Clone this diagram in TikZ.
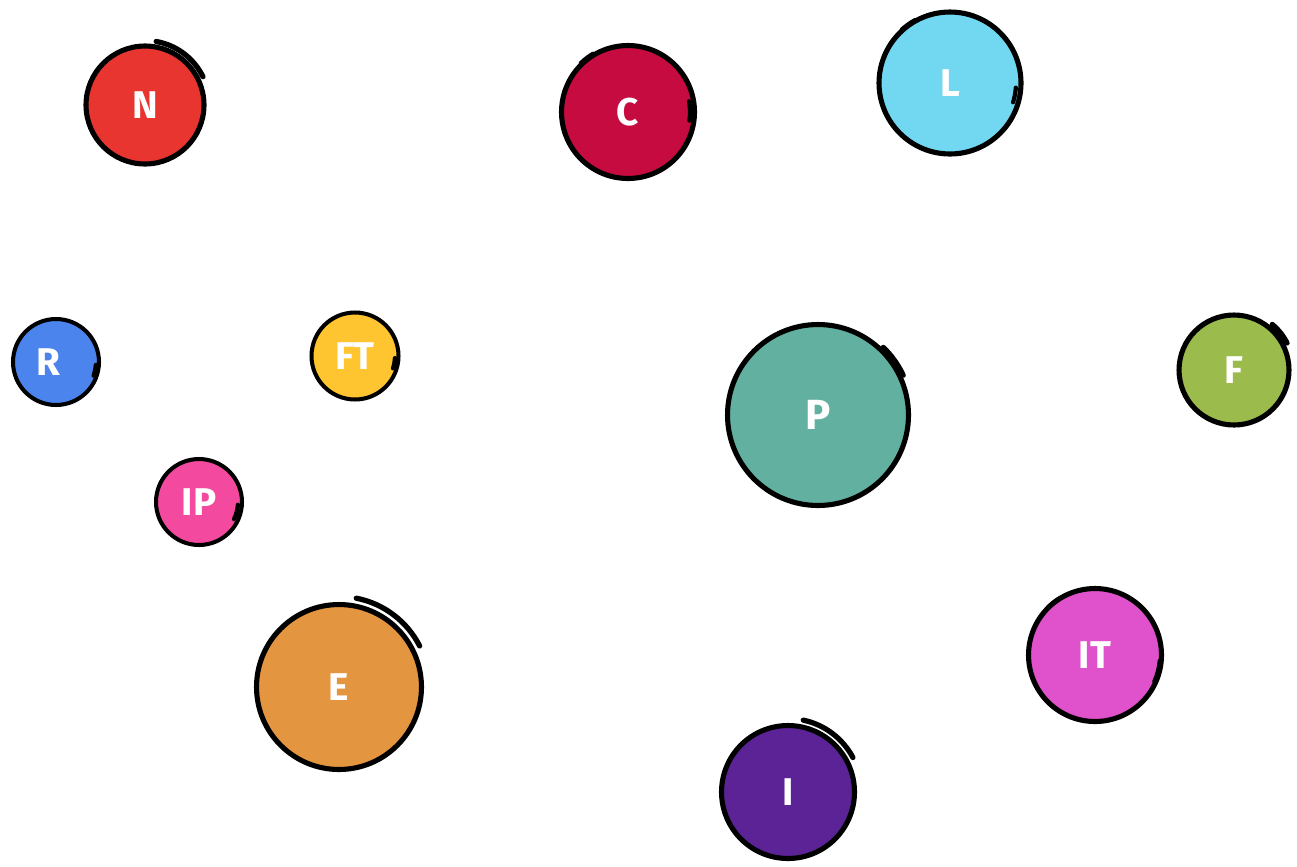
\documentclass[tikz,border=0pt]{standalone}
\usepackage{fontspec}
\setmainfont{Fira Sans}
\usetikzlibrary{calc}
\definecolor{cN}{HTML}{E8352F}
\definecolor{cC}{HTML}{C50B40}
\definecolor{cL}{HTML}{72D7F1}
\definecolor{cR}{HTML}{4A84EC}
\definecolor{cFT}{HTML}{FFC530}
\definecolor{cP}{HTML}{62B0A0}
\definecolor{cF}{HTML}{9BBB4D}
\definecolor{cIP}{HTML}{F34AA0}
\definecolor{cE}{HTML}{E49540}
\definecolor{cIT}{HTML}{E052CC}
\definecolor{cI}{HTML}{5B2396}
\tikzset{
  ball/.style={circle, draw=black, line width=2.9pt, fill=#1, text=white,
    font=\fontsize{22}{22}\selectfont\bfseries, inner sep=0pt},
  smallball/.style={ball=#1, line width=2.3pt},
  tail/.style={draw=black, line width=3pt, line cap=round},
  tick/.style={draw=black, line width=2.4pt, line cap=round},
}
\begin{document}
\begin{tikzpicture}[x=0.02cm, y=-0.02cm]
\useasboundingbox (0,0) rectangle (1297,866);
\fill[white] (0,0) rectangle (1297,866);

\node[ball=cN, minimum size=2.36cm] (N) at (145,105) {N};
\node[ball=cC, minimum size=2.66cm] (C) at (628,112) {C};
\node[ball=cL, minimum size=2.84cm] (L) at (950,83) {L};
\node[smallball=cR, minimum size=1.72cm, text width=1.2cm, align=left, inner xsep=0pt] (R) at (56,362) {\hspace*{0.2cm}R};
\node[smallball=cFT, minimum size=1.74cm] (FT) at (355,356) {FT};
\node[ball=cP, minimum size=3.62cm, font=\fontsize{24}{24}\selectfont\bfseries] (P) at (818,415) {P};
\node[ball=cF, minimum size=2.20cm] (F) at (1234,370) {F};
\node[smallball=cIP, minimum size=1.72cm] (IP) at (199,502) {IP};
\node[ball=cE, minimum size=3.30cm] (E) at (339,687) {E};
\node[ball=cIT, minimum size=2.66cm] (IT) at (1095,655) {IT};
\node[ball=cI, minimum size=2.66cm] (I) at (788,792) {I};

% overshoot tails
\draw[tail] ($(N.center)+(80:1.29cm)$) arc[start angle=80, end angle=26, radius=1.29cm];
\draw[tail] ($(E.center)+(79:1.81cm)$) arc[start angle=79, end angle=27, radius=1.81cm];
\draw[tail] ($(I.center)+(78:1.47cm)$) arc[start angle=78, end angle=28, radius=1.47cm];
\draw[tail] ($(P.center)+(46:1.88cm)$) arc[start angle=46, end angle=25, radius=1.88cm];
\draw[tail] ($(F.center)+(50:1.19cm)$) arc[start angle=50, end angle=27, radius=1.19cm];

% small ticks on the right
\draw[tick] ($(C.center)+(10:1.24cm)$) arc[start angle=10, end angle=-8, radius=1.24cm];
\draw[tick] ($(L.center)+(-4:1.32cm)$) arc[start angle=-4, end angle=-17, radius=1.32cm];
\draw[tick] ($(IT.center)+(-5:1.30cm)$) arc[start angle=-5, end angle=-24, radius=1.30cm];
\draw[tick] ($(R.center)+(-4:0.80cm)$) arc[start angle=-4, end angle=-20, radius=0.80cm];
\draw[tick] ($(FT.center)+(-3:0.80cm)$) arc[start angle=-3, end angle=-18, radius=0.80cm];
\draw[tick] ($(IP.center)+(-4:0.78cm)$) arc[start angle=-4, end angle=-26, radius=0.78cm];

% small overlaps top-left
\draw[tick] ($(C.center)+(121:1.36cm)$) arc[start angle=121, end angle=134, radius=1.36cm];
\draw[tick] ($(L.center)+(119:1.44cm)$) arc[start angle=119, end angle=132, radius=1.44cm];
\draw[tick] ($(IT.center)+(122:1.34cm)$) arc[start angle=122, end angle=135, radius=1.34cm];
\end{tikzpicture}
\end{document}
